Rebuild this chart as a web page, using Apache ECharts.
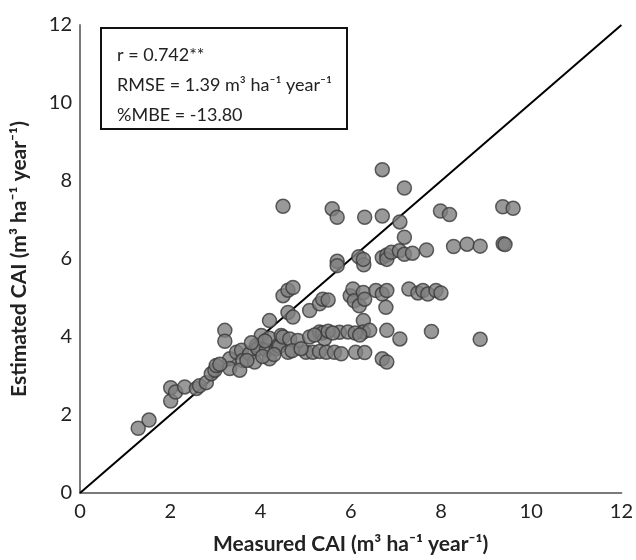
<!DOCTYPE html>
<html>
<head>
<meta charset="utf-8">
<script src="https://cdn.jsdelivr.net/npm/echarts@6/dist/echarts.min.js"></script>
<style>
  html, body { margin: 0; padding: 0; background: #fff; }
  #chart { width: 636px; height: 560px; }
</style>
</head>
<body>
<div id="chart"></div>
<script>
// measured CAI (x) and estimated CAI (y)
const measured = [
  1.29, 1.53,
  2.01, 2.01, 2.12, 2.32, 2.58, 2.65, 2.80, 2.91, 2.99, 3.02,
  3.21, 3.21, 3.32, 3.32, 3.47, 3.58, 3.61, 3.54, 3.76, 3.87, 3.91, 3.94,
  4.02, 4.13, 4.20, 4.20, 4.20, 4.35, 4.39, 4.42, 4.46, 4.50, 4.61, 4.61,
  4.72, 4.65, 4.83, 5.01, 5.09, 5.09,
  4.50, 4.61, 4.72,
  5.31, 5.38, 5.42, 5.31, 5.38, 5.50,
  5.16, 5.31, 5.46, 5.64, 5.79, 5.75, 5.94, 6.11, 6.31, 6.70, 6.80,
  5.99, 6.05, 6.08, 6.19, 6.28, 6.31, 6.56, 6.70, 6.80, 6.78, 7.29, 7.49,
  7.60, 7.71, 7.89, 8.00,
  6.28, 6.28, 6.42, 6.80, 7.09, 7.79, 8.87,
  5.70, 5.70, 6.18, 6.29, 6.28, 6.70, 6.80, 6.80, 6.90, 7.08, 7.19, 7.37,
  7.68, 8.28, 8.58, 8.87, 9.38, 9.42,
  7.19,
  4.50, 5.59, 5.70, 6.31, 6.70, 7.09, 7.99, 8.19, 9.37, 9.60, 6.70, 7.19,
  3.10, 3.70, 4.05, 4.30, 4.70, 4.90, 4.10, 3.80,
  5.20, 5.50, 5.60, 6.10, 6.20
];
const estimated = [
  1.66, 1.87,
  2.36, 2.70, 2.59, 2.72, 2.68, 2.75, 2.83, 3.06, 3.15, 3.27,
  4.17, 3.89, 3.44, 3.19, 3.61, 3.66, 3.40, 3.15, 3.57, 3.36, 3.78, 3.70,
  4.04, 3.66, 3.44, 3.97, 4.42, 3.70, 3.78, 3.76, 4.04, 4.00, 3.61, 4.63,
  4.51, 3.95, 3.91, 3.61, 4.00, 4.68,
  5.06, 5.20, 5.27,
  4.13, 4.10, 3.95, 4.85, 4.97, 4.95,
  3.61, 3.63, 3.61, 3.61, 3.57, 4.12, 4.13, 3.61, 3.60, 3.44, 3.36,
  5.06, 5.23, 4.93, 4.80, 5.14, 4.97, 5.19, 5.10, 5.19, 4.76, 5.23, 5.13,
  5.19, 5.10, 5.19, 5.13,
  4.42, 4.13, 4.17, 4.17, 3.95, 4.14, 3.94,
  5.94, 5.83, 6.06, 5.85, 5.99, 6.04, 6.10, 5.99, 6.17, 6.21, 6.12, 6.15,
  6.23, 6.32, 6.38, 6.33, 6.39, 6.37,
  6.56,
  7.35, 7.29, 7.07, 7.07, 7.10, 6.95, 7.23, 7.14, 7.34, 7.30, 8.29, 7.82,
  3.30, 3.40, 3.50, 3.55, 3.65, 3.70, 3.90, 3.85,
  4.05, 4.15, 4.10, 4.10, 4.05
];
// 1:1 reference line
const oneToOne = [[0, 0], [12, 12]];
const statLines = ['r = 0.742**', 'RMSE = 1.39 m³ ha⁻¹ year⁻¹', '%MBE = -13.80'];

const points = measured.map((x, i) => [x, estimated[i]]);
const font = 'Lato, "Open Sans", sans-serif';

const chart = echarts.init(document.getElementById('chart'));
const option = {
  animation: false,
  textStyle: { fontFamily: font },
  grid: { left: 80, right: 14, top: 25, bottom: 65 },
  xAxis: {
    type: 'value',
    min: 0, max: 12, interval: 2,
    name: 'Measured CAI (m³ ha⁻¹ year⁻¹)',
    nameLocation: 'middle',
    nameGap: 41,
    nameTextStyle: { fontSize: 21, fontWeight: 'bold', color: '#222', fontFamily: font },
    axisLine: { lineStyle: { color: '#7a7a7a', width: 2 } },
    axisTick: { show: false },
    splitLine: { show: false },
    axisLabel: { fontSize: 20, color: '#222', margin: 9, fontFamily: font }
  },
  yAxis: {
    type: 'value',
    min: 0, max: 12, interval: 2,
    name: 'Estimated CAI (m³ ha⁻¹ year⁻¹)',
    nameLocation: 'middle',
    nameGap: 50,
    nameTextStyle: { fontSize: 21, fontWeight: 'bold', color: '#222', fontFamily: font },
    axisLine: { show: true, lineStyle: { color: '#7a7a7a', width: 2 } },
    axisTick: { show: false },
    splitLine: { show: false },
    axisLabel: { fontSize: 20, color: '#222', margin: 8, fontFamily: font }
  },
  graphic: [
    {
      type: 'rect',
      left: 100, top: 27,
      shape: { width: 246, height: 101 },
      style: { fill: '#fff', stroke: '#111', lineWidth: 2 },
      z: 10
    },
    {
      type: 'text',
      left: 117, top: 40,
      style: {
        text: statLines.join('\n'),
        font: '18px ' + font,
        fill: '#222',
        lineHeight: 30
      },
      z: 11
    }
  ],
  series: [
    {
      type: 'line',
      data: oneToOne,
      showSymbol: false,
      lineStyle: { color: '#000', width: 2 },
      z: 1
    },
    {
      type: 'scatter',
      data: points,
      symbolSize: 14,
      itemStyle: { color: '#808080', borderColor: '#3a3a3a', borderWidth: 1.5 },
      z: 2
    }
  ]
};
chart.setOption(option);
</script>
</body>
</html>
